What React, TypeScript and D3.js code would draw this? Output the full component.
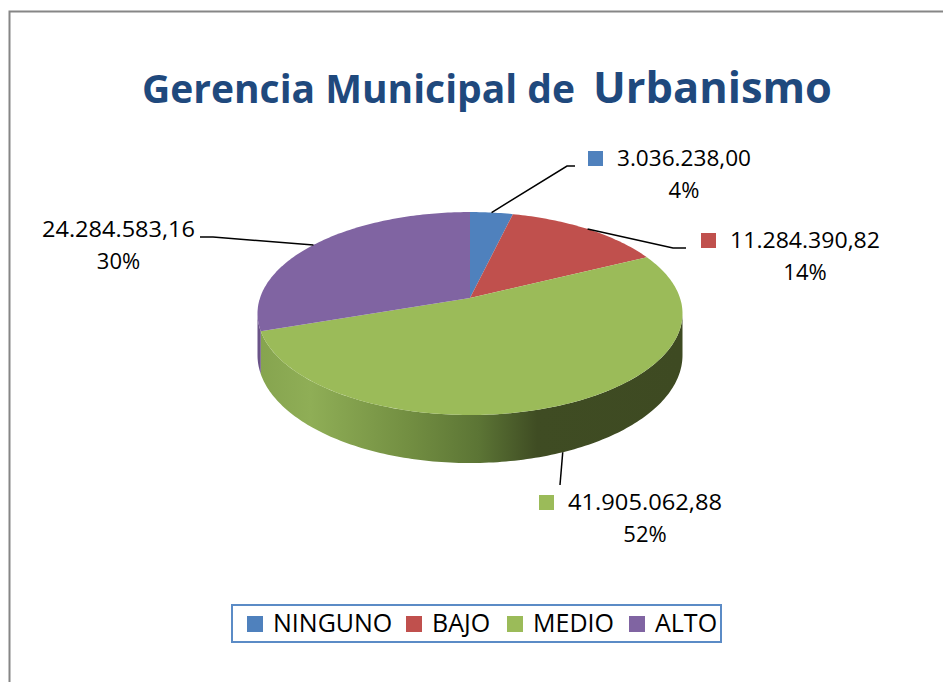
import React from "react";
import * as d3 from "d3";

const categories = ["NINGUNO", "BAJO", "MEDIO", "ALTO"];
const values = [3036238.0, 11284390.82, 41905062.88, 24284583.16];
const colors = ["#4f81bd", "#c0504d", "#9bbb59", "#8064a2"];
const sideColors = ["#3b6497", "#963c3a", "#6f8c3d", "#6a5388"];
const titleParts = ["Gerencia Municipal de", "Urbanismo"];

// label layout (Excel auto placement)
const labelCenters = [684, 805, 645, 118.5];
const labelBaselines = [166, 248, 510, 237];
const labelWidths = [134, 150, 154, 153];
const labelShowKey = [true, true, true, false];
const leaderPaths: number[][][] = [
  [[567, 166], [575, 166]],
  [[673, 248], [686, 248]],
  [[560, 485]],
  [[213, 237], [200, 237]],
];
const legendSquareX = [247, 406, 507, 629];

const W = 943;
const H = 682;
const CX = 470;
const CY = 298;
const RY = 99.1;
const RX = 210;
const K = -0.153;
const DEPTH = 40.7;

const esLocale = d3.formatLocale({
  decimal: ",",
  thousands: ".",
  grouping: [3],
  currency: ["", ""],
});
const fmtValue = esLocale.format(",.2f");

function proj(alpha: number, r = 1): [number, number, number] {
  const u = r * Math.sin(alpha);
  const v = -r * Math.cos(alpha);
  const den = 1 + K * v;
  return [CX + (RX * u) / den, CY + (RY * v) / den, DEPTH / den];
}

function arcPoints(a0: number, a1: number): [number, number, number][] {
  const n = Math.max(2, Math.ceil(((a1 - a0) * 180) / Math.PI));
  return d3.range(n + 1).map((i) => proj(a0 + ((a1 - a0) * i) / n));
}

export default function App() {
  const total = d3.sum(values);
  const pie = d3.pie<number>().sort(null).value((d) => d);
  const arcs = pie(values);
  const line = d3.line();
  const lo = Math.acos(K);
  const hi = 2 * Math.PI - lo;

  const tops = arcs.map((a) => {
    const pts = arcPoints(a.startAngle, a.endAngle).map((p) => [p[0], p[1]] as [number, number]);
    return line([[CX, CY], ...pts])! + "Z";
  });

  const sides = arcs.map((a) => {
    const s = Math.max(a.startAngle, lo);
    const e = Math.min(a.endAngle, hi);
    if (e <= s) return null;
    const top = arcPoints(s, e);
    const bottom = top.slice().reverse().map((p) => [p[0], p[1] + p[2]] as [number, number]);
    return line([...top.map((p) => [p[0], p[1]] as [number, number]), ...bottom])! + "Z";
  });

  const leaders = arcs.map((a, i) => {
    const mid = (a.startAngle + a.endAngle) / 2;
    const p = proj(mid);
    const front = mid > lo && mid < hi;
    const start: [number, number] = [p[0], front ? p[1] + p[2] : p[1]];
    return line([start, ...(leaderPaths[i] as [number, number][])])!;
  });

  const font = "'Open Sans', 'DejaVu Sans', sans-serif";

  return (
    <svg width={W} height={H} style={{ position: "absolute", left: 0, top: 0 }} xmlns="http://www.w3.org/2000/svg">
      <defs>
        <linearGradient id="greenSide" gradientUnits="userSpaceOnUse" x1={CX - RX} y1={0} x2={CX + RX} y2={0}>
          <stop offset="0" stopColor="#86a44f" />
          <stop offset="0.12" stopColor="#8fae56" />
          <stop offset="0.35" stopColor="#738f42" />
          <stop offset="0.52" stopColor="#5c7535" />
          <stop offset="0.66" stopColor="#3f4c23" />
          <stop offset="1" stopColor="#3e4a22" />
        </linearGradient>
      </defs>
      <rect x={0} y={0} width={W} height={H} fill="#ffffff" />
      <path d={`M9.5,${H} L9.5,11.5 L${W},11.5`} fill="none" stroke="#868686" strokeWidth={2} />

      <text x={142} y={103} fontFamily={font} fontWeight={700} fontSize={39} fill="#1f497d" textLength={433} lengthAdjust="spacingAndGlyphs">
        {titleParts[0]}
      </text>
      <text x={593} y={103} fontFamily={font} fontWeight={700} fontSize={43} fill="#1f497d" textLength={239} lengthAdjust="spacingAndGlyphs">
        {titleParts[1]}
      </text>

      {sides.map((d, i) =>
        d ? <path key={"s" + i} d={d} fill={i === 2 ? "url(#greenSide)" : sideColors[i]} /> : null
      )}
      {tops.map((d, i) => (
        <path key={"t" + i} d={d} fill={colors[i]} />
      ))}

      {leaders.map((d, i) => (
        <path key={"l" + i} d={d} fill="none" stroke="#000" strokeWidth={1.5} />
      ))}

      {values.map((v, i) => (
        <g key={"lab" + i} fontFamily={font} fontSize={22} fill="#000">
          {labelShowKey[i] && (
            <rect x={labelCenters[i] - labelWidths[i] / 2 - 29} y={labelBaselines[i] - 15} width={15} height={15} fill={colors[i]} />
          )}
          <text x={labelCenters[i]} y={labelBaselines[i]} textAnchor="middle" textLength={labelWidths[i]} lengthAdjust="spacingAndGlyphs">
            {fmtValue(v)}
          </text>
          <text x={labelCenters[i]} y={labelBaselines[i] + 32} textAnchor="middle">
            {Math.round((v / total) * 100) + "%"}
          </text>
        </g>
      ))}

      <rect x={232} y={605} width={489} height={37} fill="#fff" stroke="#5b8bc6" strokeWidth={2} />
      {categories.map((c, i) => (
        <g key={"lg" + i}>
          <rect x={legendSquareX[i]} y={616} width={16} height={16} fill={colors[i]} />
          <text x={legendSquareX[i] + 26} y={632} fontFamily={font} fontSize={25} fill="#000">
            {c}
          </text>
        </g>
      ))}
    </svg>
  );
}
